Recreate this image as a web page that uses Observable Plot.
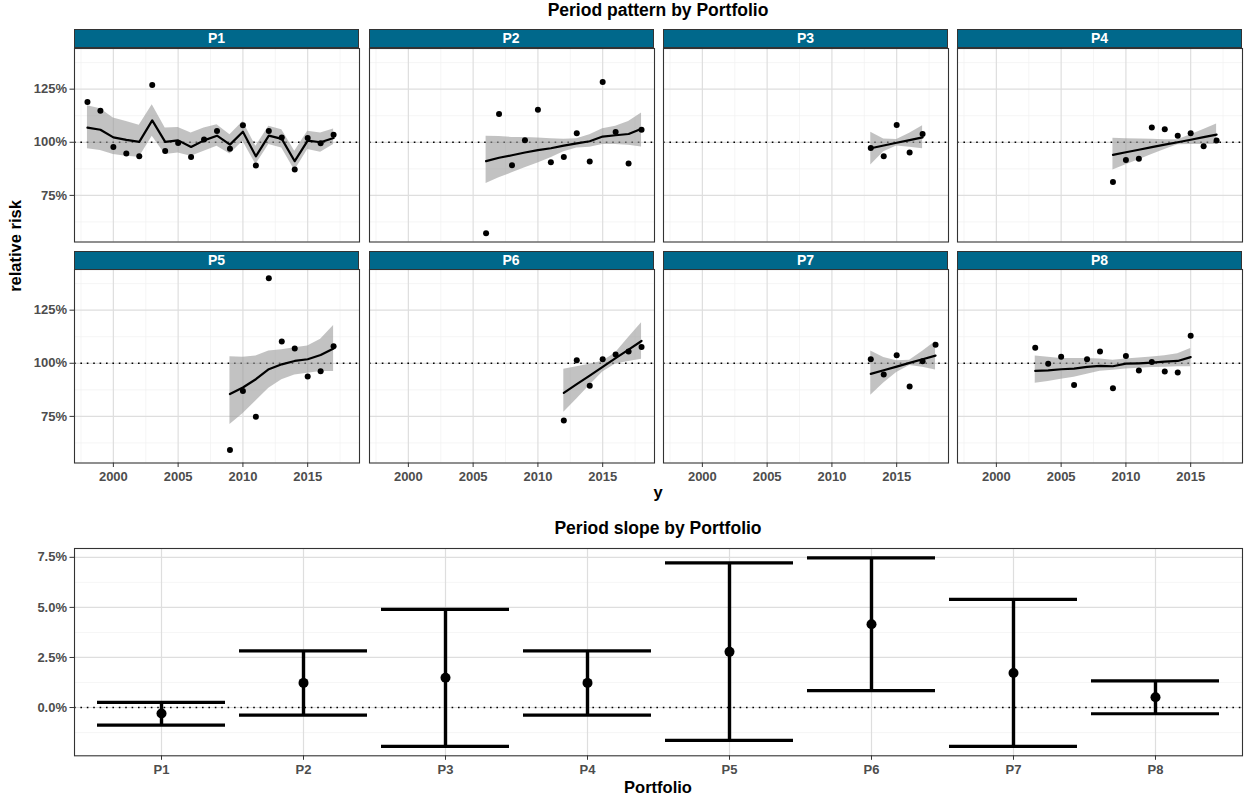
<!DOCTYPE html>
<html><head><meta charset="utf-8">
<script src="https://cdn.jsdelivr.net/npm/d3@7"></script>
<script src="https://cdn.jsdelivr.net/npm/@observablehq/plot@0.6"></script>
<style>
body{margin:0;background:#fff;font-family:"Liberation Sans",Arial,sans-serif;}
#root{position:relative;width:1245px;height:801px;overflow:hidden;background:#fff;}
#root svg{position:absolute;}
.strip{position:absolute;background:#00688B;color:#fff;font-weight:bold;font-size:14px;text-align:center;box-sizing:border-box;border:1px solid #333;line-height:16.5px;}
.ttl{position:absolute;font-weight:bold;white-space:nowrap;transform:translate(-50%,-50%);color:#000;line-height:1;}
</style></head><body><div id="root"></div><script>
// ---------- data ----------
const portfolios = ["P1","P2","P3","P4","P5","P6","P7","P8"];

const yearsP1 = [1998,1999,2000,2001,2002,2003,2004,2005,2006,2007,2008,2009,2010,2011,2012,2013,2014,2015,2016,2017];
const rrP1  = [118.9,114.8,97.8,94.7,93.4,127.0,95.9,99.7,93.1,101.3,105.3,96.9,108.0,89.1,105.3,102.3,87.2,102.0,99.5,103.6];
const fitP1 = [106.9,105.9,102.3,101.1,100.2,110.3,100.2,100.9,97.8,100.9,103.1,98.9,105.0,93.4,103.1,101.6,91.1,100.8,100.0,102.0];
const loP1  = [96.9,96.1,94.2,93.4,93.0,102.8,94.2,95.0,93.4,95.8,98.1,94.5,100.5,89.5,98.9,97.3,86.7,96.6,95.3,98.9];
const hiP1  = [117.2,115.8,111.4,109.8,108.0,117.7,106.7,107.0,104.4,106.7,108.3,103.6,109.8,98.1,107.5,105.9,95.8,105.2,104.4,106.3];

const yearsP2 = [2006,2007,2008,2009,2010,2011,2012,2013,2014,2015,2016,2017,2018];
const rrP2  = [57.2,113.3,89.2,100.9,115.3,90.6,93.1,104.2,90.9,128.4,104.8,90.0,105.9];
const fitP2 = [91.1,92.7,93.9,95.2,96.3,97.2,98.4,99.5,100.5,102.7,103.3,103.9,106.4];
const loP2  = [80.6,83.3,85.6,88.0,90.3,92.7,95.5,97.3,97.7,98.9,98.9,98.6,97.8];
const hiP2  = [102.8,102.7,102.3,102.3,102.0,101.7,101.4,101.7,103.6,106.4,107.5,109.8,113.8];

const yearsP3 = [2013,2014,2015,2016,2017];
const rrP3  = [97.3,93.4,108.1,95.2,103.9];
const fitP3 = [97.2,98.5,99.8,101.0,102.3];
const loP3  = [89.3,95.5,98.3,97.7,96.9];
const hiP3  = [104.7,101.5,101.3,104.3,107.8];

const yearsP4 = [2009,2010,2011,2012,2013,2014,2015,2016,2017];
const rrP4  = [81.25,91.7,92.2,106.9,106.1,103.1,104.2,98.1,100.8];
const fitP4 = [94.1,95.3,96.5,97.7,98.9,100.0,101.2,102.4,103.6];
const loP4  = [87.0,89.4,91.8,94.2,96.6,98.8,99.0,99.0,99.1];
const hiP4  = [101.9,101.7,101.5,101.4,101.2,101.2,103.5,106.0,108.6];

const yearsP5 = [2009,2010,2011,2012,2013,2014,2015,2016,2017];
const rrP5  = [59.2,87.0,74.8,140.0,110.2,107.0,93.75,96.25,108.0];
const fitP5 = [85.5,88.6,92.5,97.2,99.5,101.1,101.9,103.9,107.0];
const loP5  = [71.2,76.3,82.2,88.3,92.2,94.5,95.3,96.1,96.1];
const hiP5  = [103.1,102.8,103.4,105.8,106.4,107.3,108.1,111.3,117.8];

const yearsP6 = [2012,2013,2014,2015,2016,2017,2018];
const rrP6  = [73.1,101.4,89.4,101.9,104.1,105.6,107.7];
const fitP6 = [86.1,90.2,94.2,98.3,102.4,106.4,110.5];
const loP6  = [76.9,83.2,89.6,95.9,99.7,100.8,101.9];
const hiP6  = [97.2,98.4,99.6,100.9,105.0,112.1,119.1];

const yearsP7 = [2013,2014,2015,2016,2017,2018];
const rrP7  = [101.9,94.7,103.75,89.1,100.9,108.75];
const fitP7 = [95.0,96.7,98.4,100.2,101.9,103.6];
const loP7  = [85.0,90.7,95.6,99.0,98.1,96.8];
const hiP7  = [105.8,102.7,101.2,101.4,105.7,110.2];

const yearsP8 = [2003,2004,2005,2006,2007,2008,2009,2010,2011,2012,2013,2014,2015];
const rrP8  = [107.3,99.8,103.1,89.8,101.9,105.6,88.3,103.4,96.6,100.6,96.1,95.6,113.0];
const fitP8 = [96.4,96.7,97.2,97.5,98.3,98.8,98.6,99.8,100.0,100.3,100.8,101.1,102.9];
const loP8  = [90.6,91.4,92.5,93.4,94.8,96.3,96.7,97.3,97.7,98.0,98.1,98.4,98.4];
const hiP8  = [103.4,102.8,102.3,102.3,102.3,102.0,101.4,102.0,102.5,103.0,103.6,104.5,106.9];

// period slope (% per year) with CI
const slopeEst = [-0.30,1.23,1.49,1.23,2.78,4.16,1.72,0.51];
const slopeLo  = [-0.88,-0.38,-1.94,-0.38,-1.64,0.84,-1.94,-0.31];
const slopeHi  = [0.26,2.83,4.90,2.83,7.22,7.47,5.40,1.33];

// ticks
const xMajor = [2000,2005,2010,2015];
const xMinor = [1997.5,2002.5,2007.5,2012.5,2017.5];
const yMajor = [75,100,125];
const yMinor = [62.5,87.5,112.5,137.5];
const sMajor = [0,2.5,5,7.5];
const sMinor = [-1.25,1.25,3.75,6.25];

// ---------- build tables ----------
const series = {
  P1:[yearsP1,rrP1,fitP1,loP1,hiP1], P2:[yearsP2,rrP2,fitP2,loP2,hiP2],
  P3:[yearsP3,rrP3,fitP3,loP3,hiP3], P4:[yearsP4,rrP4,fitP4,loP4,hiP4],
  P5:[yearsP5,rrP5,fitP5,loP5,hiP5], P6:[yearsP6,rrP6,fitP6,loP6,hiP6],
  P7:[yearsP7,rrP7,fitP7,loP7,hiP7], P8:[yearsP8,rrP8,fitP8,loP8,hiP8]
};
const tables = {};
for (const p of portfolios) {
  const [ys, rr, fit, lo, hi] = series[p];
  tables[p] = ys.map((y, i) => ({year: y, rr: rr[i], fit: fit[i], lo: lo[i], hi: hi[i]}));
}
const all = portfolios.flatMap(p => tables[p]);
function expand(lo, hi, f = 0.05) { const d = (hi - lo) * f; return [lo - d, hi + d]; }
const xDomain = expand(d3.min(all, d => d.year), d3.max(all, d => d.year));
const yDomain = expand(d3.min(all, d => Math.min(d.rr, d.lo)), d3.max(all, d => Math.max(d.rr, d.hi)));
const slopeData = portfolios.map((p, i) => ({p, est: slopeEst[i], lo: slopeLo[i], hi: slopeHi[i]}));
const sDomain = expand(d3.min(slopeLo), d3.max(slopeHi));

// ---------- layout ----------
const root = document.getElementById("root");
const FONT = '"Liberation Sans", Arial, sans-serif';
const panelLefts = [74, 368.5, 663, 957];
const panelW = 285;
const rowTops = [29, 250.5];
const stripH = 18.5;
const panelH = 193.5;
const gridMajor = {stroke: "#DEDEDE", strokeOpacity: 1, strokeWidth: 1.2};
const gridMinor = {stroke: "#F0F0F0", strokeOpacity: 1, strokeWidth: 0.7};
const dotted = {stroke: "#000", strokeWidth: 1.6, strokeDasharray: "1.6,4.8"};

function addText(txt, x, y, size, rotate) {
  const d = document.createElement("div");
  d.className = "ttl";
  d.textContent = txt;
  d.style.left = x + "px"; d.style.top = y + "px"; d.style.fontSize = size + "px";
  if (rotate) d.style.transform = "translate(-50%,-50%) rotate(-90deg)";
  root.appendChild(d);
}

addText("Period pattern by Portfolio", 658, 10.5, 17.5);
addText("relative risk", 15, 245.5, 16.5, true);
addText("y", 658, 492, 16.5);
addText("Period slope by Portfolio", 658, 528.5, 17.5);
addText("Portfolio", 658, 787, 16.5);

portfolios.forEach((p, i) => {
  const col = i % 4, row = Math.floor(i / 4);
  const left = panelLefts[col];
  const top = rowTops[row] + stripH;
  const mL = col === 0 ? left : 2;
  const mB = row === 1 ? 28 : 2;
  const marks = [
    Plot.gridX(xMinor, gridMinor),
    Plot.gridY(yMinor, gridMinor),
    Plot.gridX(xMajor, gridMajor),
    Plot.gridY(yMajor, gridMajor),
    Plot.ruleY([100], dotted),
    Plot.areaY(tables[p], {x: "year", y1: "lo", y2: "hi", fill: "#999999", fillOpacity: 0.6}),
    Plot.line(tables[p], {x: "year", y: "fit", stroke: "#000", strokeWidth: 2.2}),
    Plot.dot(tables[p], {x: "year", y: "rr", r: 3, fill: "#000", stroke: "none"}),
    Plot.frame({stroke: "#333", strokeWidth: 1.1})
  ];
  if (col === 0) marks.push(Plot.axisY(yMajor, {label: null, tickSize: 4.5, tickPadding: 3, tickFormat: d => d + "%", stroke: "#333", fill: "#4D4D4D"}));
  if (row === 1) marks.push(Plot.axisX(xMajor, {label: null, tickSize: 4.5, tickPadding: 4.5, tickFormat: d => String(d), stroke: "#333", fill: "#4D4D4D"}));
  const svg = Plot.plot({
    width: mL + panelW + 2, height: 2 + panelH + mB,
    marginLeft: mL, marginRight: 2, marginTop: 2, marginBottom: mB,
    style: {fontFamily: FONT, fontSize: "13px", fontWeight: "bold", background: "transparent", overflow: "visible"},
    x: {domain: xDomain, axis: null, label: null},
    y: {domain: yDomain, axis: null, label: null},
    marks
  });
  svg.style.left = (col === 0 ? 0 : left - 2) + "px";
  svg.style.top = (top - 2) + "px";
  root.appendChild(svg);
  const s = document.createElement("div");
  s.className = "strip";
  s.textContent = p;
  s.style.left = left + "px"; s.style.top = rowTops[row] + "px";
  s.style.width = panelW + "px"; s.style.height = (stripH + 0.5) + "px";
  root.appendChild(s);
});

// ---------- slope chart ----------
const sTop = 547.7, sH = 207.3;
const slope = Plot.plot({
  width: 1244, height: 2 + sH + 30,
  marginLeft: 74, marginRight: 2, marginTop: 2, marginBottom: 30,
  style: {fontFamily: FONT, fontSize: "13px", fontWeight: "bold", background: "transparent", overflow: "visible"},
  x: {type: "band", domain: portfolios, paddingInner: 0.1, paddingOuter: 0.15, align: 0.5, axis: null, label: null},
  y: {domain: sDomain, axis: null, label: null},
  marks: [
    Plot.gridY(sMinor, gridMinor),
    Plot.gridY(sMajor, gridMajor),
    Plot.gridX(portfolios, gridMajor),
    Plot.ruleY([0], dotted),
    Plot.ruleX(slopeData, {x: "p", y1: "lo", y2: "hi", stroke: "#000", strokeWidth: 3.4}),
    Plot.tickY(slopeData, {x: "p", y: "lo", stroke: "#000", strokeWidth: 3.2}),
    Plot.tickY(slopeData, {x: "p", y: "hi", stroke: "#000", strokeWidth: 3.2}),
    Plot.dot(slopeData, {x: "p", y: "est", r: 5, fill: "#000", stroke: "none"}),
    Plot.frame({stroke: "#333", strokeWidth: 1.1}),
    Plot.axisY(sMajor, {label: null, tickSize: 4.5, tickPadding: 3, tickFormat: d => d.toFixed(1) + "%", stroke: "#333", fill: "#4D4D4D"}),
    Plot.axisX(portfolios, {label: null, tickSize: 4.5, tickPadding: 4, stroke: "#333", fill: "#4D4D4D"})
  ]
});
slope.style.left = "0px";
slope.style.top = (sTop - 2) + "px";
root.appendChild(slope);
</script></body></html>
